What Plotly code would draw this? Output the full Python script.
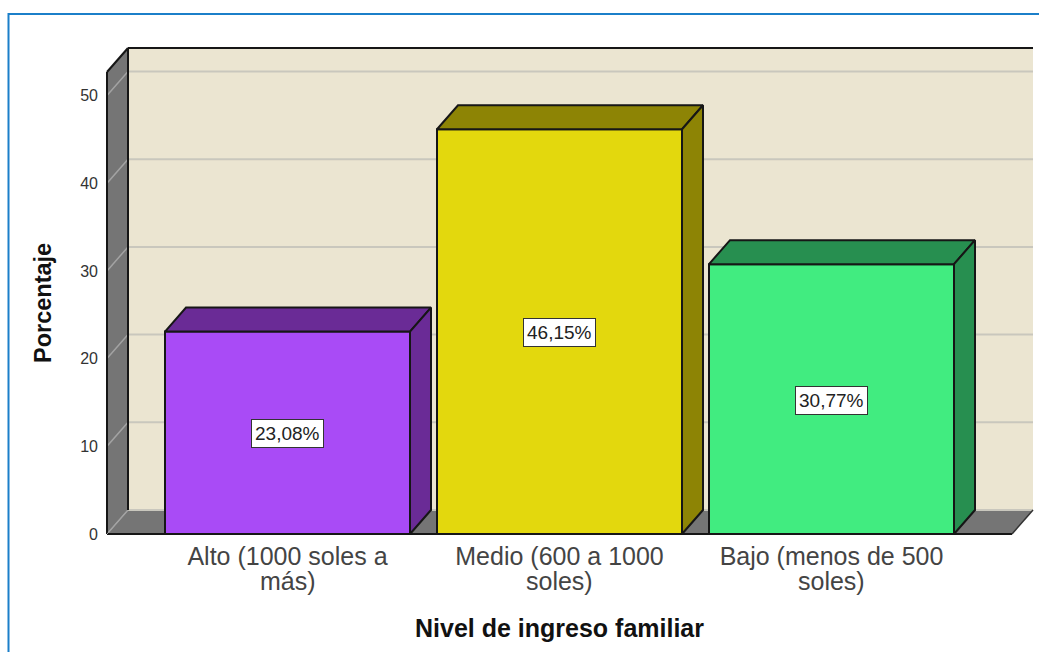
import plotly.graph_objects as go

# Data
categories_line1 = ["Alto (1000 soles a", "Medio (600 a 1000", "Bajo (menos de 500"]
categories_line2 = ["más)", "soles)", "soles)"]
percentages = [23.08, 46.15, 30.77]
y_ticks = [0, 10, 20, 30, 40, 50]
x_title = "Nivel de ingreso familiar"
y_title = "Porcentaje"
front_colors = ["#a94bf6", "#e3d80d", "#41ec80"]
dark_colors = ["#6a2b96", "#8d8405", "#278f50"]

# Geometry of the oblique projection (pixels mapped to axis units)
W, H = 1039, 652
PX_CAT, PX_UNIT = 272.0, 8.77
X0_PX, Y0_PX = 287.5, 534.0
L_PX, R_PX, T_PX, B_PX = 103, 1037, 44, 538
DX = 21 / PX_CAT
DY = 24 / PX_UNIT
BAR_W = 245 / PX_CAT
WALL_L = (107 - X0_PX) / PX_CAT
FLOOR_R = (1012 - X0_PX) / PX_CAT
Y_TOP = (534 - 72) / PX_UNIT
INK = "#161616"

fig = go.Figure()
shapes = []


def poly(xs, ys, fill, line=INK, width=0):
    path = "M " + " L ".join(f"{x},{y}" for x, y in zip(xs, ys)) + " Z"
    shapes.append(dict(type="path", path=path, fillcolor=fill, layer="below",
                       line=dict(color=line, width=width), xref="x", yref="y"))


def seg(x0, y0, x1, y1, color=INK, width=2):
    shapes.append(dict(type="line", x0=x0, y0=y0, x1=x1, y1=y1, layer="below",
                       line=dict(color=color, width=width), xref="x", yref="y"))


# Back wall, side wall and floor
bx0, bx1 = WALL_L + DX, FLOOR_R + DX
poly([bx0, bx1, bx1, bx0], [DY, DY, Y_TOP + DY, Y_TOP + DY], "#ebe5d1")
poly([WALL_L, bx0, bx0, WALL_L], [0, DY, Y_TOP + DY, Y_TOP], "#757575")
poly([WALL_L, bx0, bx1, FLOOR_R], [0, DY, DY, 0], "#757575")
for t in y_ticks:
    seg(bx0, t + DY, bx1, t + DY, "#c9c7bd", 2)
    seg(WALL_L, t, bx0, t + DY, "#a3a3a3", 1.5)
seg(WALL_L, 0, WALL_L, Y_TOP)
seg(WALL_L, Y_TOP, bx0, Y_TOP + DY)
seg(bx0, Y_TOP + DY, bx1, Y_TOP + DY)
seg(bx0, DY, bx0, Y_TOP + DY)
seg(WALL_L, 0, FLOOR_R, 0)
seg(FLOOR_R, 0, bx1, DY, "#333333", 1.5)
seg(WALL_L, 0, bx0, DY, "#a3a3a3", 1)

# Bars: the front faces
xs = list(range(len(percentages)))
fig.add_trace(go.Bar(x=xs, y=percentages, width=BAR_W,
                     marker=dict(color=front_colors, line=dict(color=INK, width=2)),
                     showlegend=False, hoverinfo="skip"))

# Bars: top and side faces, derived from the values
for x, v, c in zip(xs, percentages, dark_colors):
    x0, x1 = x - BAR_W / 2, x + BAR_W / 2
    fig.add_trace(go.Scatter(x=[x0, x0 + DX, x1 + DX, x1, x0], y=[v, v + DY, v + DY, v, v],
                             mode="lines", fill="toself", fillcolor=c,
                             line=dict(color=INK, width=2), showlegend=False, hoverinfo="skip"))
    fig.add_trace(go.Scatter(x=[x1, x1 + DX, x1 + DX, x1, x1], y=[0, DY, v + DY, v, 0],
                             mode="lines", fill="toself", fillcolor=c,
                             line=dict(color=INK, width=2), showlegend=False, hoverinfo="skip"))

annotations = []
# Value labels
for x, v in zip(xs, percentages):
    annotations.append(dict(x=x, y=v / 2, xref="x", yref="y", showarrow=False, yshift=-1,
                            text=f"{v:.2f}".replace(".", ",") + "%",
                            font=dict(family="Liberation Sans", size=19, color="#222222"),
                            bgcolor="#ffffff", bordercolor="#333333", borderwidth=1, borderpad=3))
# Second line of the category labels
for x, t in zip(xs, categories_line2):
    annotations.append(dict(x=x, y=0, xref="x", yref="y", yanchor="middle", yshift=-47,
                            showarrow=False, text=t,
                            font=dict(family="Liberation Sans", size=25, color="#444444")))
# Axis titles
px = lambda p: (p - L_PX) / (R_PX - L_PX)
py = lambda p: (B_PX - p) / (B_PX - T_PX)
annotations.append(dict(x=px(559), y=py(628), xref="paper", yref="paper", showarrow=False,
                        xanchor="center", yanchor="middle",
                        text=f"<b>{x_title}</b>",
                        font=dict(family="Liberation Sans", size=25, color="#111111")))
annotations.append(dict(x=px(43), y=py(303), xref="paper", yref="paper", showarrow=False,
                        xanchor="center", yanchor="middle",
                        textangle=-90, text=f"<b>{y_title}</b>",
                        font=dict(family="Liberation Sans", size=23.5, color="#111111")))

# Blue outer frame
shapes.append(dict(type="rect", xref="paper", yref="paper", x0=px(8.5), x1=px(1045),
                   y0=py(660), y1=py(14), line=dict(color="#1b7fc9", width=2),
                   fillcolor="rgba(0,0,0,0)", layer="below"))

fig.update_layout(
    width=W, height=H, autosize=False,
    margin=dict(l=L_PX, r=W - R_PX, t=T_PX, b=H - B_PX, pad=0),
    paper_bgcolor="#ffffff", plot_bgcolor="#ffffff",
    shapes=shapes, annotations=annotations, showlegend=False, barmode="overlay",
    xaxis=dict(range=[(L_PX - X0_PX) / PX_CAT, (R_PX - X0_PX) / PX_CAT],
               tickmode="array", tickvals=xs, ticktext=categories_line1,
               tickfont=dict(family="Liberation Sans", size=25, color="#444444"),
               showgrid=False, zeroline=False, showline=False, ticks="",
               ticklabelstandoff=1, fixedrange=True),
    yaxis=dict(range=[(Y0_PX - B_PX) / PX_UNIT, (Y0_PX - T_PX) / PX_UNIT],
               tickmode="array", tickvals=y_ticks, ticktext=[str(t) for t in y_ticks],
               tickfont=dict(family="Liberation Sans", size=16, color="#333333"),
               showgrid=False, zeroline=False, showline=False, ticks="",
               ticklabelstandoff=4, fixedrange=True),
)
fig.write_html(
    "out.html",
    config=dict(displayModeBar=False),
    post_script="document.body.style.margin='0';document.documentElement.style.overflow='hidden';",
)
